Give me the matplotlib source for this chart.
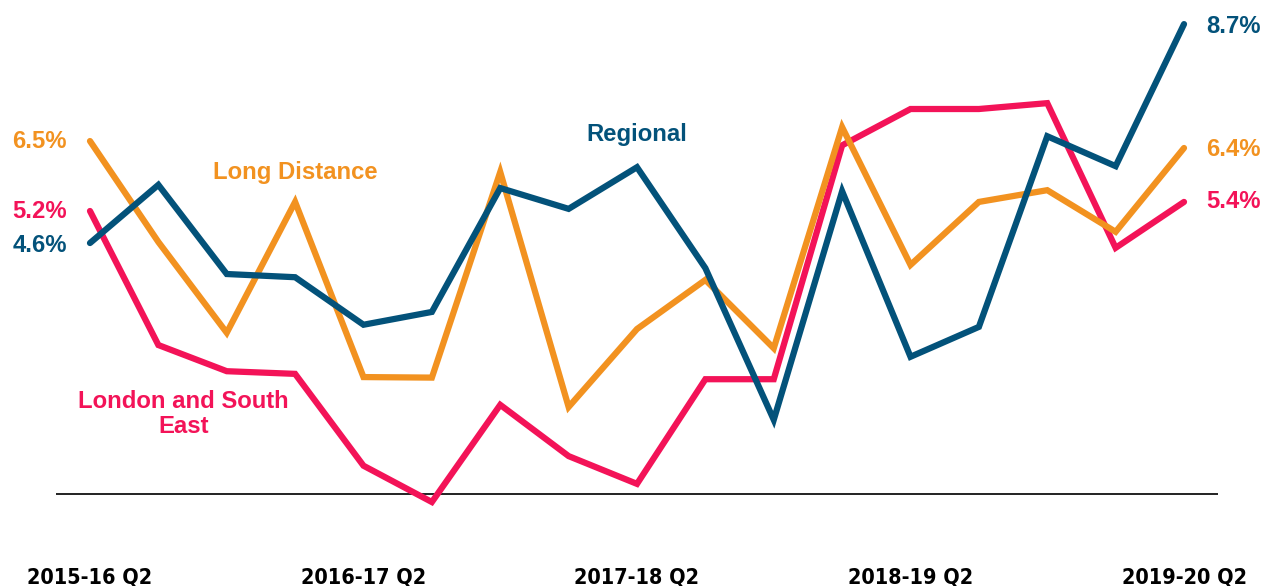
import numpy as np
import matplotlib.pyplot as plt

# quarters 2015-16 Q2 .. 2019-20 Q2
quarters = ['2015-16 Q2', '2015-16 Q3', '2015-16 Q4', '2016-17 Q1',
            '2016-17 Q2', '2016-17 Q3', '2016-17 Q4', '2017-18 Q1',
            '2017-18 Q2', '2017-18 Q3', '2017-18 Q4', '2018-19 Q1',
            '2018-19 Q2', '2018-19 Q3', '2018-19 Q4', '2019-20 Q1',
            '2019-20 Q2']
tick_labels = ['2015-16 Q2', '2016-17 Q2', '2017-18 Q2', '2018-19 Q2', '2019-20 Q2']

regional = [4.60, 5.69, 4.02, 3.96, 3.07, 3.31, 5.63, 5.24, 6.02, 4.13,
            1.29, 5.57, 2.47, 3.03, 6.60, 6.04, 8.70]
long_distance = [6.51, 4.62, 2.92, 5.37, 2.09, 2.08, 5.93, 1.53, 2.99, 3.91,
                 2.63, 6.77, 4.19, 5.37, 5.59, 4.81, 6.38]
london_se = [5.20, 2.69, 2.20, 2.15, 0.43, -0.25, 1.57, 0.61, 0.09, 2.05,
             2.05, 6.43, 7.11, 7.11, 7.22, 4.51, 5.37]
baseline = -0.1

start_labels = ['4.6%', '6.5%', '5.2%']   # regional, long distance, london
end_labels = ['8.7%', '6.4%', '5.4%']

c_reg = '#03527A'
c_ld = '#F29220'
c_lse = '#F31358'

plt.rcParams['font.family'] = ['Liberation Sans', 'DejaVu Sans']

fig = plt.figure(figsize=(12.63, 5.86), dpi=100)
ax = fig.add_axes([55.8 / 1263, 0.1114, 1162.4 / 1263, 0.8748])
x = np.arange(len(quarters))

kw = dict(lw=4.5, solid_capstyle='round', solid_joinstyle='miter', clip_on=False)
ax.plot(x, london_se, color=c_lse, zorder=3, **kw)
ax.plot(x, long_distance, color=c_ld, zorder=4, **kw)
ax.plot(x, regional, color=c_reg, zorder=5, **kw)
ax.axhline(baseline, color='#222222', lw=1.4, zorder=2)

ax.set_xlim(-0.5, 16.5)
ax.set_ylim(-0.6, 9.0)
for s in ax.spines.values():
    s.set_visible(False)
ax.set_yticks([])
ax.set_xticks([0, 4, 8, 12, 16])
ax.set_xticklabels(tick_labels, fontfamily='DejaVu Sans', fontstretch='condensed',
                   fontweight='bold', fontsize=15.5)
ax.tick_params(axis='x', length=0, pad=34)

fs = 17.2
series = [(regional, c_reg, -0.04, -0.05), (long_distance, c_ld, 0.0, -0.03),
          (london_se, c_lse, 0.0, 0.0)]
for (vals, col, dy0, dy1), s0, s1 in zip(series, start_labels, end_labels):
    ax.text(-0.34, vals[0] + dy0, s0, color=col, fontsize=fs,
            fontweight='bold', ha='right', va='center')
    ax.text(16.33, vals[-1] + dy1, s1, color=col, fontsize=fs,
            fontweight='bold', ha='left', va='center')

# series names
ax.text(3.0, 5.93, 'Long Distance', color=c_ld, fontsize=fs, fontweight='bold',
        ha='center', va='center')
ax.text(8.0, 6.64, 'Regional', color=c_reg, fontsize=fs, fontweight='bold',
        ha='center', va='center')
ax.text(1.37, 1.40, 'London and South\nEast', color=c_lse, fontsize=fs,
        fontweight='bold', ha='center', va='center', linespacing=1.15)

fig.savefig('out.png', dpi=100)
